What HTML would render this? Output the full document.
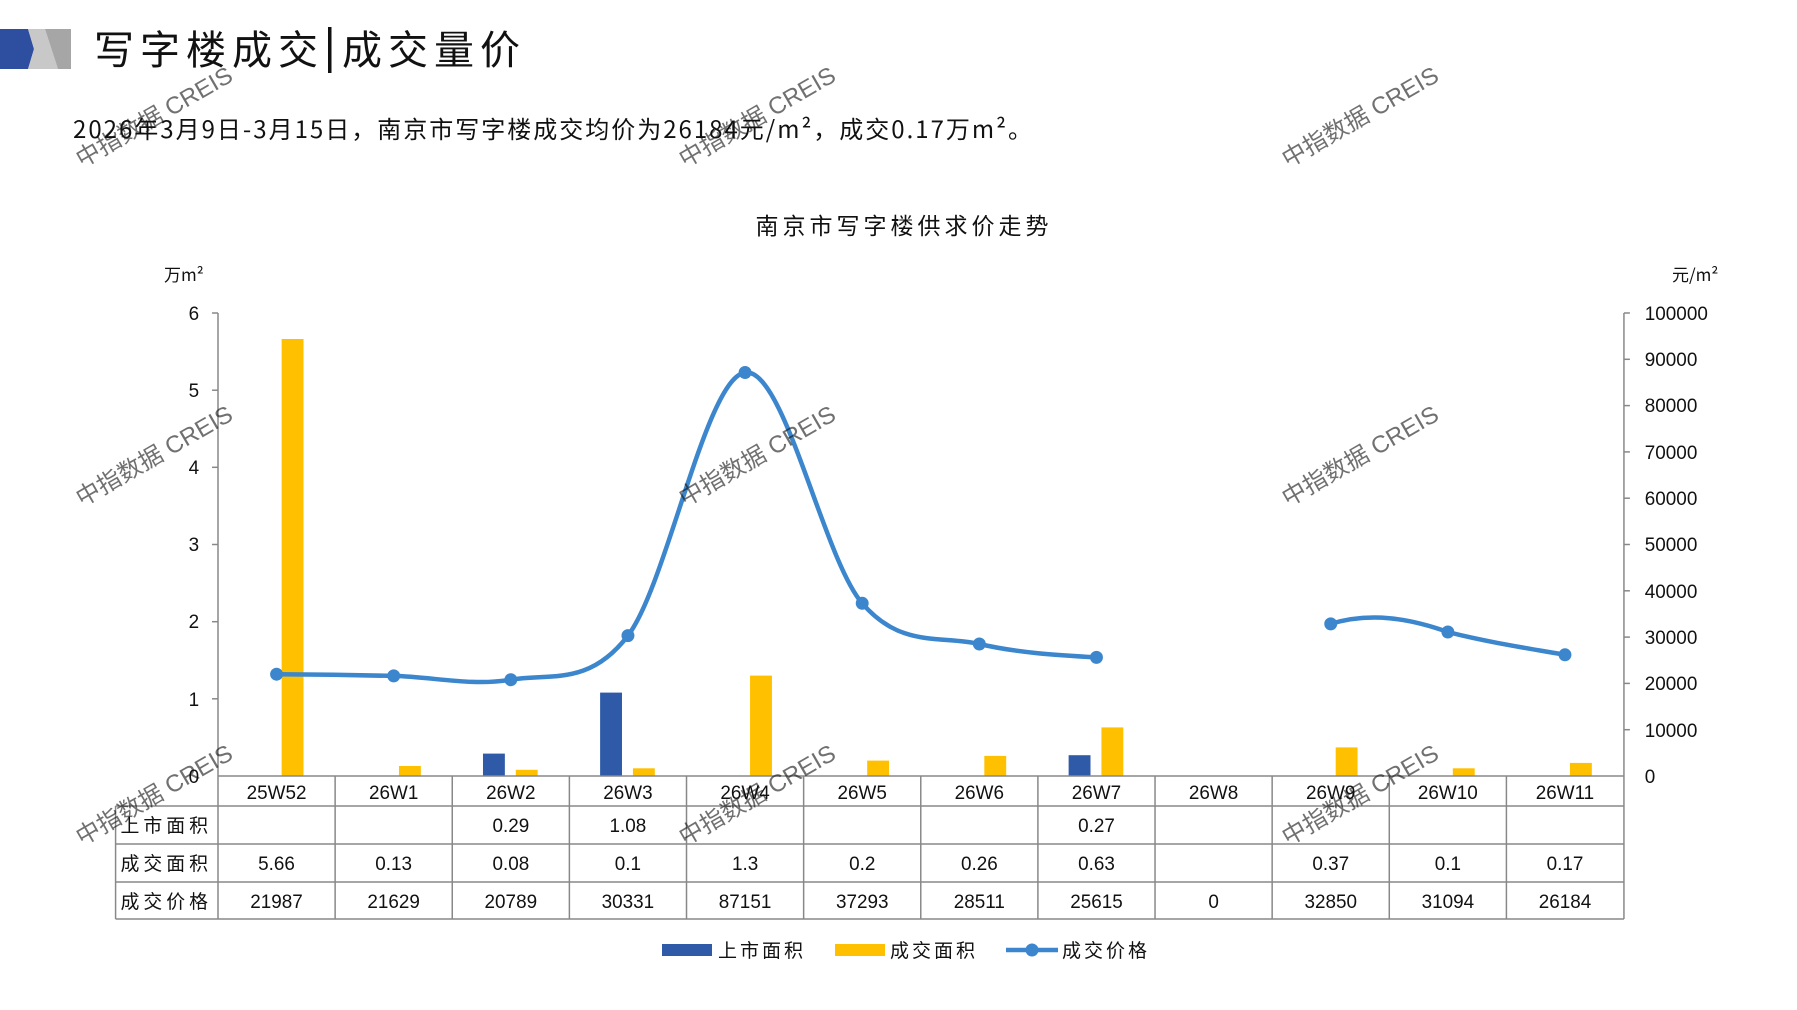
<!DOCTYPE html>
<html><head><meta charset="utf-8"><style>
html,body{margin:0;padding:0;background:#fff;}
svg{display:block;}
text{font-family:"Liberation Sans","Noto Sans CJK SC",sans-serif;fill:#111;}
.wm{fill:#c8c8c8;font-size:24px;opacity:0.6;}
.cj{font-family:'Noto Sans CJK SC',sans-serif;}
</style></head><body>
<svg width="1797" height="1010" viewBox="0 0 1797 1010" xmlns="http://www.w3.org/2000/svg">
<!-- logo -->
<polygon points="0,29 71,29 71,69 0,69" fill="#d9d9d9"/>
<polygon points="45,29 71,29 71,69 58,69" fill="#a6a6a6"/>
<polygon points="0,29 28,29 34,49 28,69 0,69" fill="#2e4fa0"/>
<polygon points="28,29 45,29 58,69 28,69 34,49" fill="#c8c8c8"/>
<text x="94" y="64" font-size="40" class="cj" letter-spacing="6">写字楼成交</text>
<rect x="328" y="27" width="3.5" height="46" fill="#111"/>
<text x="342" y="64" font-size="40" class="cj" letter-spacing="6">成交量价</text>
<text x="73" y="138" font-size="24" class="cj" letter-spacing="2">2026年3月9日-3月15日，南京市写字楼成交均价为26184元/m²，成交0.17万m²。</text>
<text x="904" y="234" font-size="23" text-anchor="middle" class="cj" letter-spacing="4">南京市写字楼供求价走势</text>
<text x="164" y="281" font-size="17" class="cj">万m²</text>
<text x="1672" y="281" font-size="17" class="cj">元/m²</text>

<g transform="translate(218,0) scale(0.9943,1) translate(-218,0)">
<!-- axes -->
<g stroke="#888" stroke-width="1.5">
<line x1="218" y1="313" x2="218" y2="776"/>
<line x1="1632" y1="313" x2="1632" y2="776"/>
<line x1="212" y1="313" x2="218" y2="313"/><line x1="212" y1="390.2" x2="218" y2="390.2"/>
<line x1="212" y1="467.3" x2="218" y2="467.3"/><line x1="212" y1="544.5" x2="218" y2="544.5"/>
<line x1="212" y1="621.7" x2="218" y2="621.7"/><line x1="212" y1="698.8" x2="218" y2="698.8"/>
<line x1="1632" y1="313" x2="1638" y2="313"/><line x1="1632" y1="359.3" x2="1638" y2="359.3"/>
<line x1="1632" y1="405.6" x2="1638" y2="405.6"/><line x1="1632" y1="451.9" x2="1638" y2="451.9"/>
<line x1="1632" y1="498.2" x2="1638" y2="498.2"/><line x1="1632" y1="544.5" x2="1638" y2="544.5"/>
<line x1="1632" y1="590.8" x2="1638" y2="590.8"/><line x1="1632" y1="637.1" x2="1638" y2="637.1"/>
<line x1="1632" y1="683.4" x2="1638" y2="683.4"/><line x1="1632" y1="729.7" x2="1638" y2="729.7"/>
</g>
<g font-size="19" text-anchor="end">
<text x="199" y="320">6</text><text x="199" y="397">5</text><text x="199" y="474">4</text>
<text x="199" y="551">3</text><text x="199" y="628">2</text><text x="199" y="706">1</text><text x="199" y="783">0</text>
</g>
<g font-size="19" text-anchor="start">
<text x="1653" y="320">100000</text><text x="1653" y="366">90000</text><text x="1653" y="412">80000</text>
<text x="1653" y="459">70000</text><text x="1653" y="505">60000</text><text x="1653" y="551">50000</text>
<text x="1653" y="598">40000</text><text x="1653" y="644">30000</text><text x="1653" y="690">20000</text>
<text x="1653" y="737">10000</text><text x="1653" y="783">0</text>
</g>

<!-- bars -->
<g fill="#ffc000">
<rect x="282" y="339" width="22" height="437"/>
<rect x="400" y="766" width="22" height="10"/>
<rect x="517.5" y="769.8" width="22" height="6.2"/>
<rect x="635.3" y="768.3" width="22" height="7.7"/>
<rect x="753.1" y="675.6" width="22" height="100.4"/>
<rect x="870.9" y="760.6" width="22" height="15.4"/>
<rect x="988.7" y="755.9" width="22" height="20.1"/>
<rect x="1106.5" y="727.4" width="22" height="48.6"/>
<rect x="1342.1" y="747.4" width="22" height="28.6"/>
<rect x="1459.9" y="768.3" width="22" height="7.7"/>
<rect x="1577.7" y="762.9" width="22" height="13.1"/>
</g>
<g fill="#2e5aa8">
<rect x="484.5" y="753.6" width="22" height="22.4"/>
<rect x="602.3" y="692.6" width="22" height="83.4"/>
<rect x="1073.5" y="755.2" width="22" height="20.8"/>
</g>

<!-- line -->
<g fill="none" stroke="#3b86cc" stroke-width="4.5" stroke-linecap="round">
<path d="M276.9,674.2 C316.2,674.5 355.4,675.0 394.7,675.9 C434.0,676.8 473.2,686.4 512.5,679.7 C551.8,673.0 591.0,686.8 630.3,635.6 C669.6,584.4 708.8,377.9 748.1,372.5 C787.4,367.1 826.6,558.1 865.9,603.3 C905.2,648.6 944.4,635.0 983.7,644.0 C1023.0,653.0 1062.2,655.2 1101.5,657.4"/>
<path d="M1337.1,623.9 C1376.4,612 1415.6,618 1454.9,632.0 C1494.2,642 1533.4,648 1572.7,654.8"/>
</g>
<g fill="#3b86cc">
<circle cx="276.9" cy="674.2" r="6.5"/><circle cx="394.7" cy="675.9" r="6.5"/><circle cx="512.5" cy="679.7" r="6.5"/>
<circle cx="630.3" cy="635.6" r="6.5"/><circle cx="748.1" cy="372.5" r="6.5"/><circle cx="865.9" cy="603.3" r="6.5"/>
<circle cx="983.7" cy="644.0" r="6.5"/><circle cx="1101.5" cy="657.4" r="6.5"/><circle cx="1337.1" cy="623.9" r="6.5"/>
<circle cx="1454.9" cy="632.0" r="6.5"/><circle cx="1572.7" cy="654.8" r="6.5"/>
</g>

<!-- table -->
<g stroke="#888" stroke-width="1.5" fill="none">
<line x1="218" y1="776" x2="1632" y2="776"/>
<line x1="115" y1="806" x2="1632" y2="806"/>
<line x1="115" y1="844" x2="1632" y2="844"/>
<line x1="115" y1="882" x2="1632" y2="882"/>
<line x1="115" y1="919" x2="1632" y2="919"/>
<line x1="115" y1="806" x2="115" y2="919"/>
<line x1="218" y1="776" x2="218" y2="919"/>
<line x1="335.8" y1="776" x2="335.8" y2="919"/><line x1="453.6" y1="776" x2="453.6" y2="919"/>
<line x1="571.4" y1="776" x2="571.4" y2="919"/><line x1="689.2" y1="776" x2="689.2" y2="919"/>
<line x1="807" y1="776" x2="807" y2="919"/><line x1="924.8" y1="776" x2="924.8" y2="919"/>
<line x1="1042.6" y1="776" x2="1042.6" y2="919"/><line x1="1160.4" y1="776" x2="1160.4" y2="919"/>
<line x1="1278.2" y1="776" x2="1278.2" y2="919"/><line x1="1396" y1="776" x2="1396" y2="919"/>
<line x1="1513.8" y1="776" x2="1513.8" y2="919"/><line x1="1632" y1="776" x2="1632" y2="919"/>
</g>
<g font-size="19" text-anchor="middle">
<text x="276.9" y="799">25W52</text><text x="394.7" y="799">26W1</text><text x="512.5" y="799">26W2</text>
<text x="630.3" y="799">26W3</text><text x="748.1" y="799">26W4</text><text x="865.9" y="799">26W5</text>
<text x="983.7" y="799">26W6</text><text x="1101.5" y="799">26W7</text><text x="1219.3" y="799">26W8</text>
<text x="1337.1" y="799">26W9</text><text x="1454.9" y="799">26W10</text><text x="1572.7" y="799">26W11</text>
<text x="512.5" y="832">0.29</text><text x="630.3" y="832">1.08</text><text x="1101.5" y="832">0.27</text>
<text x="276.9" y="870">5.66</text><text x="394.7" y="870">0.13</text><text x="512.5" y="870">0.08</text>
<text x="630.3" y="870">0.1</text><text x="748.1" y="870">1.3</text><text x="865.9" y="870">0.2</text>
<text x="983.7" y="870">0.26</text><text x="1101.5" y="870">0.63</text><text x="1337.1" y="870">0.37</text>
<text x="1454.9" y="870">0.1</text><text x="1572.7" y="870">0.17</text>
<text x="276.9" y="908">21987</text><text x="394.7" y="908">21629</text><text x="512.5" y="908">20789</text>
<text x="630.3" y="908">30331</text><text x="748.1" y="908">87151</text><text x="865.9" y="908">37293</text>
<text x="983.7" y="908">28511</text><text x="1101.5" y="908">25615</text><text x="1219.3" y="908">0</text>
<text x="1337.1" y="908">32850</text><text x="1454.9" y="908">31094</text><text x="1572.7" y="908">26184</text>
</g>
<g font-size="19" class="cj" letter-spacing="4">
<text x="120" y="832">上市面积</text><text x="120" y="870">成交面积</text><text x="120" y="908">成交价格</text>
</g>
</g>

<!-- legend -->
<rect x="662" y="944" width="50" height="12" fill="#2e5aa8"/>
<text x="718" y="957" font-size="19" class="cj" letter-spacing="3">上市面积</text>
<rect x="835" y="944" width="50" height="12" fill="#ffc000"/>
<text x="890" y="957" font-size="19" class="cj" letter-spacing="3">成交面积</text>
<line x1="1006" y1="950" x2="1058" y2="950" stroke="#3b86cc" stroke-width="4.5"/>
<circle cx="1032" cy="950" r="6.5" fill="#3b86cc"/>
<text x="1062" y="957" font-size="19" class="cj" letter-spacing="3">成交价格</text>

<!-- watermarks -->
<g class="wm">
<text transform="translate(82,168) rotate(-30)">中指数据 CREIS</text>
<text transform="translate(685,168) rotate(-30)">中指数据 CREIS</text>
<text transform="translate(1288,168) rotate(-30)">中指数据 CREIS</text>
<text transform="translate(82,507) rotate(-30)">中指数据 CREIS</text>
<text transform="translate(685,507) rotate(-30)">中指数据 CREIS</text>
<text transform="translate(1288,507) rotate(-30)">中指数据 CREIS</text>
<text transform="translate(82,846) rotate(-30)">中指数据 CREIS</text>
<text transform="translate(685,846) rotate(-30)">中指数据 CREIS</text>
<text transform="translate(1288,846) rotate(-30)">中指数据 CREIS</text>
</g>
</svg>
</body></html>
